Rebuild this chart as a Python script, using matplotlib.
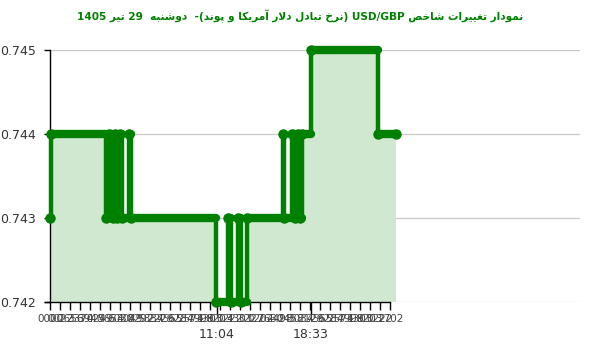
# plot.py
# USD/GBP intraday step chart (Persian title)

import re
import numpy as np
import matplotlib
matplotlib.use("Agg")
import matplotlib.pyplot as plt

# ---- data (x = slot position along the category axis) ----
x_pos = [0, 1, 56, 59, 63, 65, 67, 70, 72, 79, 81, 166, 178, 181, 188, 191, 197,
         233, 234, 242, 245, 248, 250, 252, 261, 328, 346]
rate = [0.743, 0.744, 0.743, 0.744, 0.743, 0.744, 0.743, 0.744, 0.743, 0.744, 0.743,
        0.742, 0.743, 0.742, 0.743, 0.742, 0.743,
        0.744, 0.743, 0.744, 0.743, 0.744, 0.743, 0.744, 0.745, 0.744, 0.744]

y_ticks = [0.742, 0.743, 0.744, 0.745]
y_labels = ["0.742", "0.743", "0.744", "0.745"]

minor_ticks = list(range(0, 345, 10))
minor_labels = ["0000", "0022", "2656", "3370", "3940", "4249", "5653", "6030", "4049",
                "8292", "5837", "2229", "4555", "6284", "2571", "7998", "4303", "9203",
                "0222", "4303", "3227", "0202", "2630", "4498", "2458", "3037", "2129",
                "4555", "6284", "2571", "7998", "4303", "9203", "0222", "2702"]
major_ticks = [167, 261]
major_labels = ["11:04", "18:33"]

title = "نمودار تغییرات شاخص USD/GBP (نرخ تبادل دلار آمریکا و پوند)-  دوشنبه  29 تیر 1405"

# ---- tiny arabic shaping + bidi (matplotlib has none) ----
FORMS = {
    "ا": ("\uFE8D", "\uFE8E", None, None),
    "آ": ("\uFE81", "\uFE82", None, None),
    "ب": ("\uFE8F", "\uFE90", "\uFE91", "\uFE92"),
    "پ": ("\uFB56", "\uFB57", "\uFB58", "\uFB59"),
    "ت": ("\uFE95", "\uFE96", "\uFE97", "\uFE98"),
    "خ": ("\uFEA5", "\uFEA6", "\uFEA7", "\uFEA8"),
    "د": ("\uFEA9", "\uFEAA", None, None),
    "ر": ("\uFEAD", "\uFEAE", None, None),
    "ش": ("\uFEB5", "\uFEB6", "\uFEB7", "\uFEB8"),
    "ص": ("\uFEB9", "\uFEBA", "\uFEBB", "\uFEBC"),
    "غ": ("\uFECD", "\uFECE", "\uFECF", "\uFED0"),
    "ل": ("\uFEDD", "\uFEDE", "\uFEDF", "\uFEE0"),
    "م": ("\uFEE1", "\uFEE2", "\uFEE3", "\uFEE4"),
    "ن": ("\uFEE5", "\uFEE6", "\uFEE7", "\uFEE8"),
    "ه": ("\uFEE9", "\uFEEA", "\uFEEB", "\uFEEC"),
    "و": ("\uFEED", "\uFEEE", None, None),
    "ی": ("\uFBFC", "\uFBFD", "\uFBFE", "\uFBFF"),
    "ک": ("\uFB8E", "\uFB8F", "\uFB90", "\uFB91"),
}
JOIN_BOTH = set(k for k, f in FORMS.items() if f[2] is not None)
LAM_ALEF = {"ا": ("\uFEFB", "\uFEFC"), "آ": ("\uFEF5", "\uFEF6")}


def shape(s):
    out = []
    i = 0
    n = len(s)
    while i < n:
        c = s[i]
        if c not in FORMS:
            out.append(c)
            i += 1
            continue
        p = i > 0 and s[i - 1] in JOIN_BOTH
        if c == "ل" and i + 1 < n and s[i + 1] in LAM_ALEF:
            out.append(LAM_ALEF[s[i + 1]][1 if p else 0])
            i += 2
            continue
        q = c in JOIN_BOTH and i + 1 < n and s[i + 1] in FORMS
        f = FORMS[c]
        if p and q:
            out.append(f[3])
        elif p:
            out.append(f[1])
        elif q:
            out.append(f[2])
        else:
            out.append(f[0])
        i += 1
    return "".join(out)


def fa(s):
    parts = re.split(r"([A-Za-z0-9/.:]+)", shape(s))
    mirror = str.maketrans("()", ")(")
    vis = [p if k % 2 else p[::-1].translate(mirror) for k, p in enumerate(parts)]
    return "".join(vis[::-1])


# ---- figure ----
green = "#008000"
fill = "#d0e8d0"
grid = "#c8c8c8"

fig = plt.figure(figsize=(6, 3.52), dpi=100)
ax = fig.add_axes([50 / 600, 1 - 302 / 352, 530 / 600, 252 / 352])
ax.set_xlim(0, 530)
ax.set_ylim(0.742, 0.745)

# grid
for yv in y_ticks:
    ax.axhline(yv, color=grid, lw=0.9, zorder=0)
ax.axvline(major_ticks[1], color=grid, lw=0.9, zorder=0.5)

# area + step line
ax.fill_between(x_pos, rate, 0.742, step="post", color=fill, lw=0, zorder=1)
ax.step(x_pos, rate, where="post", color=green, lw=3.2, zorder=3, clip_on=False,
        solid_joinstyle="miter")
ax.hlines(rate[:-1], x_pos[:-1], x_pos[1:], color=green, lw=6, zorder=3,
          capstyle="round", clip_on=False)
ax.plot(x_pos, rate, "o", color=green, ms=6.5, zorder=4, clip_on=False)

# axes look
for s in ["top", "right"]:
    ax.spines[s].set_visible(False)
ax.spines["left"].set_color("black")
ax.spines["left"].set_linewidth(1)
ax.spines["bottom"].set_color("black")
ax.spines["bottom"].set_linewidth(1)
ax.spines["bottom"].set_bounds(-5, minor_ticks[-1])

ax.set_yticks(y_ticks)
ax.set_yticklabels(y_labels)
ax.tick_params(axis="y", length=4, width=1, color="black", pad=6,
               labelsize=9, labelcolor="#333333")

ax.set_xticks(major_ticks)
ax.set_xticklabels(major_labels)
ax.set_xticks(minor_ticks, minor=True)
ax.set_xticklabels(minor_labels, minor=True)
ax.tick_params(axis="x", which="major", length=8.5, width=1, color="black", pad=10,
               labelsize=9, labelcolor="#333333")
ax.tick_params(axis="x", which="minor", length=6, width=1, color="black", pad=3,
               labelsize=7.5, labelcolor="#444444")
ax.xaxis.get_major_ticks()[1].tick1line.set_color(grid)

fig.text(0.5, 1 - 16 / 352, fa(title), ha="center", va="center", color=green,
         fontsize=7.6, fontweight="bold", family=["DejaVu Sans"])

fig.savefig("out.png", dpi=100)
